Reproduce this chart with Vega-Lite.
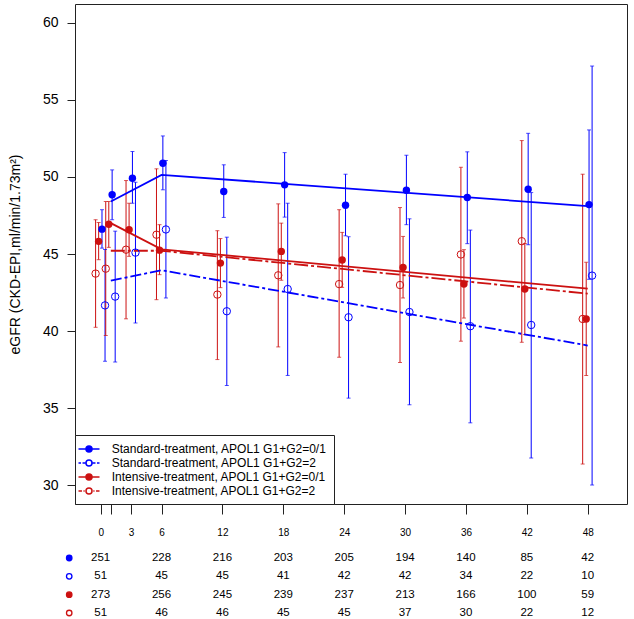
{
  "$schema": "https://vega.github.io/schema/vega-lite/v6.json",
  "padding": {"left": 7, "top": 3, "right": 0, "bottom": 0},
  "autosize": {"type": "pad"},
  "background": "white",
  "spacing": 54,
  "bounds": "flush",
  "config": {
    "font": "Liberation Sans",
    "view": {"stroke": null},
    "legend": {
      "orient": "bottom-left",
      "offset": 0,
      "padding": 7,
      "strokeColor": "#222",
      "fillColor": "white",
      "symbolSize": 144,
      "symbolStrokeWidth": 1.5,
      "symbolOpacity": 1,
      "labelFontSize": 12,
      "labelOffset": 15.7,
      "rowPadding": 1,
      "labelColor": "black",
      "labelLimit": 400
    }
  },
  "datasets": {
    "pts": [
      {"g": "Standard-treatment, APOL1 G1+G2=0/1", "m": 0, "t": 0.13, "est": 46.61, "lo": 45.38, "hi": 47.87},
      {"g": "Standard-treatment, APOL1 G1+G2=0/1", "m": 1, "t": 1.13, "est": 48.84, "lo": 47.22, "hi": 50.45},
      {"g": "Standard-treatment, APOL1 G1+G2=0/1", "m": 3, "t": 3.13, "est": 49.91, "lo": 48.29, "hi": 51.64},
      {"g": "Standard-treatment, APOL1 G1+G2=0/1", "m": 6, "t": 6.13, "est": 50.88, "lo": 49.16, "hi": 52.65},
      {"g": "Standard-treatment, APOL1 G1+G2=0/1", "m": 12, "t": 12.13, "est": 49.05, "lo": 47.37, "hi": 50.78},
      {"g": "Standard-treatment, APOL1 G1+G2=0/1", "m": 18, "t": 18.13, "est": 49.48, "lo": 47.39, "hi": 51.57},
      {"g": "Standard-treatment, APOL1 G1+G2=0/1", "m": 24, "t": 24.13, "est": 48.16, "lo": 46.18, "hi": 50.17},
      {"g": "Standard-treatment, APOL1 G1+G2=0/1", "m": 30, "t": 30.13, "est": 49.13, "lo": 46.9, "hi": 51.4},
      {"g": "Standard-treatment, APOL1 G1+G2=0/1", "m": 36, "t": 36.13, "est": 48.66, "lo": 45.67, "hi": 51.62},
      {"g": "Standard-treatment, APOL1 G1+G2=0/1", "m": 42, "t": 42.13, "est": 49.2, "lo": 45.6, "hi": 52.82},
      {"g": "Standard-treatment, APOL1 G1+G2=0/1", "m": 48, "t": 48.13, "est": 48.2, "lo": 43.36, "hi": 53.04},
      {"g": "Standard-treatment, APOL1 G1+G2=2", "m": 0, "t": 0.43, "est": 41.67, "lo": 38.05, "hi": 45.29},
      {"g": "Standard-treatment, APOL1 G1+G2=2", "m": 1, "t": 1.43, "est": 42.24, "lo": 38.0, "hi": 46.48},
      {"g": "Standard-treatment, APOL1 G1+G2=2", "m": 3, "t": 3.43, "est": 45.09, "lo": 40.53, "hi": 49.65},
      {"g": "Standard-treatment, APOL1 G1+G2=2", "m": 6, "t": 6.43, "est": 46.59, "lo": 42.15, "hi": 51.06},
      {"g": "Standard-treatment, APOL1 G1+G2=2", "m": 12, "t": 12.43, "est": 41.29, "lo": 36.48, "hi": 46.09},
      {"g": "Standard-treatment, APOL1 G1+G2=2", "m": 18, "t": 18.43, "est": 42.73, "lo": 37.13, "hi": 48.29},
      {"g": "Standard-treatment, APOL1 G1+G2=2", "m": 24, "t": 24.43, "est": 40.9, "lo": 35.66, "hi": 46.12},
      {"g": "Standard-treatment, APOL1 G1+G2=2", "m": 30, "t": 30.43, "est": 41.24, "lo": 35.23, "hi": 47.28},
      {"g": "Standard-treatment, APOL1 G1+G2=2", "m": 36, "t": 36.43, "est": 40.32, "lo": 34.06, "hi": 46.55},
      {"g": "Standard-treatment, APOL1 G1+G2=2", "m": 42, "t": 42.43, "est": 40.4, "lo": 31.78, "hi": 48.98},
      {"g": "Standard-treatment, APOL1 G1+G2=2", "m": 48, "t": 48.43, "est": 43.6, "lo": 30.03, "hi": 57.18},
      {"g": "Intensive-treatment, APOL1 G1+G2=0/1", "m": 0, "t": -0.2, "est": 45.82, "lo": 44.63, "hi": 47.04},
      {"g": "Intensive-treatment, APOL1 G1+G2=0/1", "m": 1, "t": 0.8, "est": 46.93, "lo": 45.43, "hi": 48.4},
      {"g": "Intensive-treatment, APOL1 G1+G2=0/1", "m": 3, "t": 2.8, "est": 46.57, "lo": 44.85, "hi": 48.29},
      {"g": "Intensive-treatment, APOL1 G1+G2=0/1", "m": 6, "t": 5.8, "est": 45.25, "lo": 43.66, "hi": 46.9},
      {"g": "Intensive-treatment, APOL1 G1+G2=0/1", "m": 12, "t": 11.8, "est": 44.41, "lo": 42.82, "hi": 46.0},
      {"g": "Intensive-treatment, APOL1 G1+G2=0/1", "m": 18, "t": 17.8, "est": 45.17, "lo": 43.3, "hi": 47.0},
      {"g": "Intensive-treatment, APOL1 G1+G2=0/1", "m": 24, "t": 23.8, "est": 44.61, "lo": 42.84, "hi": 46.4},
      {"g": "Intensive-treatment, APOL1 G1+G2=0/1", "m": 30, "t": 29.8, "est": 44.13, "lo": 42.15, "hi": 46.14},
      {"g": "Intensive-treatment, APOL1 G1+G2=0/1", "m": 36, "t": 35.8, "est": 43.05, "lo": 40.85, "hi": 45.28},
      {"g": "Intensive-treatment, APOL1 G1+G2=0/1", "m": 42, "t": 41.8, "est": 42.73, "lo": 39.78, "hi": 45.68},
      {"g": "Intensive-treatment, APOL1 G1+G2=0/1", "m": 48, "t": 47.85, "est": 40.79, "lo": 37.13, "hi": 44.46},
      {"g": "Intensive-treatment, APOL1 G1+G2=2", "m": 0, "t": -0.5, "est": 43.73, "lo": 40.25, "hi": 47.22},
      {"g": "Intensive-treatment, APOL1 G1+G2=2", "m": 1, "t": 0.5, "est": 44.05, "lo": 39.72, "hi": 48.4},
      {"g": "Intensive-treatment, APOL1 G1+G2=2", "m": 3, "t": 2.5, "est": 45.28, "lo": 40.8, "hi": 49.76},
      {"g": "Intensive-treatment, APOL1 G1+G2=2", "m": 6, "t": 5.5, "est": 46.25, "lo": 42.04, "hi": 50.52},
      {"g": "Intensive-treatment, APOL1 G1+G2=2", "m": 12, "t": 11.5, "est": 42.37, "lo": 38.16, "hi": 46.51},
      {"g": "Intensive-treatment, APOL1 G1+G2=2", "m": 18, "t": 17.5, "est": 43.62, "lo": 38.98, "hi": 48.25},
      {"g": "Intensive-treatment, APOL1 G1+G2=2", "m": 24, "t": 23.5, "est": 43.05, "lo": 38.31, "hi": 47.87},
      {"g": "Intensive-treatment, APOL1 G1+G2=2", "m": 30, "t": 29.5, "est": 42.99, "lo": 37.97, "hi": 48.01},
      {"g": "Intensive-treatment, APOL1 G1+G2=2", "m": 36, "t": 35.5, "est": 44.97, "lo": 39.35, "hi": 50.62},
      {"g": "Intensive-treatment, APOL1 G1+G2=2", "m": 42, "t": 41.5, "est": 45.83, "lo": 39.28, "hi": 52.35},
      {"g": "Intensive-treatment, APOL1 G1+G2=2", "m": 48, "t": 47.5, "est": 40.79, "lo": 31.39, "hi": 50.17}
    ],
    "fit": [
      {"g": "Standard-treatment, APOL1 G1+G2=0/1", "m": 1, "fit": 48.4},
      {"g": "Standard-treatment, APOL1 G1+G2=0/1", "m": 6, "fit": 50.13},
      {"g": "Standard-treatment, APOL1 G1+G2=0/1", "m": 48, "fit": 48.1},
      {"g": "Standard-treatment, APOL1 G1+G2=2", "m": 1, "fit": 43.27},
      {"g": "Standard-treatment, APOL1 G1+G2=2", "m": 6, "fit": 43.95},
      {"g": "Standard-treatment, APOL1 G1+G2=2", "m": 48, "fit": 39.07},
      {"g": "Intensive-treatment, APOL1 G1+G2=0/1", "m": 1, "fit": 47.0},
      {"g": "Intensive-treatment, APOL1 G1+G2=0/1", "m": 6, "fit": 45.3},
      {"g": "Intensive-treatment, APOL1 G1+G2=0/1", "m": 48, "fit": 42.75},
      {"g": "Intensive-treatment, APOL1 G1+G2=2", "m": 1, "fit": 45.21},
      {"g": "Intensive-treatment, APOL1 G1+G2=2", "m": 6, "fit": 45.21},
      {"g": "Intensive-treatment, APOL1 G1+G2=2", "m": 48, "fit": 42.43}
    ],
    "counts": [
      {"g": "Standard-treatment, APOL1 G1+G2=0/1", "m": 0, "n": 251},
      {"g": "Standard-treatment, APOL1 G1+G2=0/1", "m": 6, "n": 228},
      {"g": "Standard-treatment, APOL1 G1+G2=0/1", "m": 12, "n": 216},
      {"g": "Standard-treatment, APOL1 G1+G2=0/1", "m": 18, "n": 203},
      {"g": "Standard-treatment, APOL1 G1+G2=0/1", "m": 24, "n": 205},
      {"g": "Standard-treatment, APOL1 G1+G2=0/1", "m": 30, "n": 194},
      {"g": "Standard-treatment, APOL1 G1+G2=0/1", "m": 36, "n": 140},
      {"g": "Standard-treatment, APOL1 G1+G2=0/1", "m": 42, "n": 85},
      {"g": "Standard-treatment, APOL1 G1+G2=0/1", "m": 48, "n": 42},
      {"g": "Standard-treatment, APOL1 G1+G2=2", "m": 0, "n": 51},
      {"g": "Standard-treatment, APOL1 G1+G2=2", "m": 6, "n": 45},
      {"g": "Standard-treatment, APOL1 G1+G2=2", "m": 12, "n": 45},
      {"g": "Standard-treatment, APOL1 G1+G2=2", "m": 18, "n": 41},
      {"g": "Standard-treatment, APOL1 G1+G2=2", "m": 24, "n": 42},
      {"g": "Standard-treatment, APOL1 G1+G2=2", "m": 30, "n": 42},
      {"g": "Standard-treatment, APOL1 G1+G2=2", "m": 36, "n": 34},
      {"g": "Standard-treatment, APOL1 G1+G2=2", "m": 42, "n": 22},
      {"g": "Standard-treatment, APOL1 G1+G2=2", "m": 48, "n": 10},
      {"g": "Intensive-treatment, APOL1 G1+G2=0/1", "m": 0, "n": 273},
      {"g": "Intensive-treatment, APOL1 G1+G2=0/1", "m": 6, "n": 256},
      {"g": "Intensive-treatment, APOL1 G1+G2=0/1", "m": 12, "n": 245},
      {"g": "Intensive-treatment, APOL1 G1+G2=0/1", "m": 18, "n": 239},
      {"g": "Intensive-treatment, APOL1 G1+G2=0/1", "m": 24, "n": 237},
      {"g": "Intensive-treatment, APOL1 G1+G2=0/1", "m": 30, "n": 213},
      {"g": "Intensive-treatment, APOL1 G1+G2=0/1", "m": 36, "n": 166},
      {"g": "Intensive-treatment, APOL1 G1+G2=0/1", "m": 42, "n": 100},
      {"g": "Intensive-treatment, APOL1 G1+G2=0/1", "m": 48, "n": 59},
      {"g": "Intensive-treatment, APOL1 G1+G2=2", "m": 0, "n": 51},
      {"g": "Intensive-treatment, APOL1 G1+G2=2", "m": 6, "n": 46},
      {"g": "Intensive-treatment, APOL1 G1+G2=2", "m": 12, "n": 46},
      {"g": "Intensive-treatment, APOL1 G1+G2=2", "m": 18, "n": 45},
      {"g": "Intensive-treatment, APOL1 G1+G2=2", "m": 24, "n": 45},
      {"g": "Intensive-treatment, APOL1 G1+G2=2", "m": 30, "n": 37},
      {"g": "Intensive-treatment, APOL1 G1+G2=2", "m": 36, "n": 30},
      {"g": "Intensive-treatment, APOL1 G1+G2=2", "m": 42, "n": 22},
      {"g": "Intensive-treatment, APOL1 G1+G2=2", "m": 48, "n": 12}
    ]
  },
  "resolve": {"scale": {"x": "independent", "y": "independent", "fill": "independent", "stroke": "independent", "shape": "independent", "color": "independent"}},
  "vconcat": [
    {
      "width": 552,
      "height": 500,
      "view": {"stroke": "#222", "strokeWidth": 1},
      "layer": [
        {
          "data": {"name": "pts"},
          "mark": {"type": "rule", "strokeWidth": 1},
          "encoding": {
            "x": {"field": "t", "type": "quantitative", "scale": {"domain": [-2.53, 51.87], "nice": false, "zero": false},
              "axis": {"values": [0, 1, 3, 6, 12, 18, 24, 30, 36, 42, 48], "title": null, "tickSize": 10, "labelPadding": 13, "labelFontSize": 10, "labelExpr": "datum.value == 1 ? '' : datum.label", "domain": false, "grid": false, "labelOverlap": false, "labelFlush": false, "tickColor": "#222", "labelColor": "black"}},
            "y": {"field": "lo", "type": "quantitative", "scale": {"domain": [28.8, 61.2], "nice": false, "zero": false},
              "axis": {"values": [30, 35, 40, 45, 50, 55, 60], "title": "eGFR (CKD-EPI,ml/min/1.73m²)", "tickSize": 8, "labelPadding": 9, "labelFontSize": 14, "titleFontSize": 14, "titleFontWeight": "normal", "titlePadding": 20, "domain": false, "grid": false, "tickColor": "#222", "labelColor": "black", "titleColor": "black"}},
            "y2": {"field": "hi"},
            "color": {"field": "g", "type": "nominal", "legend": null,
              "scale": {"domain": ["Intensive-treatment, APOL1 G1+G2=0/1", "Intensive-treatment, APOL1 G1+G2=2", "Standard-treatment, APOL1 G1+G2=0/1", "Standard-treatment, APOL1 G1+G2=2"], "range": ["#cc1111", "#cc1111", "#0000ff", "#0000ff"]}}
          }
        },
        {
          "data": {"name": "pts"},
          "mark": {"type": "tick", "orient": "horizontal", "size": 4, "thickness": 1},
          "encoding": {
            "x": {"field": "t", "type": "quantitative"},
            "y": {"field": "lo", "type": "quantitative"},
            "color": {"field": "g", "type": "nominal", "legend": null}
          }
        },
        {
          "data": {"name": "pts"},
          "mark": {"type": "tick", "orient": "horizontal", "size": 4, "thickness": 1},
          "encoding": {
            "x": {"field": "t", "type": "quantitative"},
            "y": {"field": "hi", "type": "quantitative"},
            "color": {"field": "g", "type": "nominal", "legend": null}
          }
        },
        {
          "data": {"name": "fit"},
          "transform": [{"filter": "indexof(datum.g, '=0/1') >= 0"}],
          "mark": {"type": "line", "strokeWidth": 1.8},
          "encoding": {
            "x": {"field": "m", "type": "quantitative"},
            "y": {"field": "fit", "type": "quantitative"},
            "color": {"field": "g", "type": "nominal", "legend": null}
          }
        },
        {
          "data": {"name": "fit"},
          "transform": [{"filter": "datum.g == 'Standard-treatment, APOL1 G1+G2=2'"}],
          "mark": {"type": "line", "strokeWidth": 1.8, "strokeDash": [11, 3, 3, 3]},
          "encoding": {
            "x": {"field": "m", "type": "quantitative"},
            "y": {"field": "fit", "type": "quantitative"},
            "color": {"field": "g", "type": "nominal", "legend": null}
          }
        },
        {
          "data": {"name": "fit"},
          "transform": [{"filter": "datum.g == 'Intensive-treatment, APOL1 G1+G2=2'"}],
          "mark": {"type": "line", "strokeWidth": 1.8, "strokeDash": [14, 3, 3, 3]},
          "encoding": {
            "x": {"field": "m", "type": "quantitative"},
            "y": {"field": "fit", "type": "quantitative"},
            "color": {"field": "g", "type": "nominal", "legend": null}
          }
        },
        {
          "data": {"name": "pts"},
          "transform": [{"filter": "indexof(datum.g, '=0/1') >= 0"}],
          "mark": {"type": "point", "shape": "circle", "size": 55, "strokeWidth": 1, "filled": true, "opacity": 1},
          "encoding": {
            "x": {"field": "t", "type": "quantitative"},
            "y": {"field": "est", "type": "quantitative"},
            "color": {"field": "g", "type": "nominal", "legend": null}
          }
        },
        {
          "data": {"name": "pts"},
          "transform": [{"filter": "indexof(datum.g, '=2') >= 0"}],
          "mark": {"type": "point", "shape": "circle", "size": 55, "strokeWidth": 1, "filled": false, "opacity": 1},
          "encoding": {
            "x": {"field": "t", "type": "quantitative"},
            "y": {"field": "est", "type": "quantitative"},
            "color": {"field": "g", "type": "nominal", "legend": null}
          }
        },
        {
          "data": {"name": "pts"},
          "transform": [{"filter": "false"}],
          "mark": {"type": "point", "strokeWidth": 1.5, "opacity": 1},
          "encoding": {
            "x": {"field": "t", "type": "quantitative"},
            "y": {"field": "est", "type": "quantitative"},
            "stroke": {"field": "g", "type": "nominal", "legend": {"title": null},
              "scale": {"domain": ["Standard-treatment, APOL1 G1+G2=0/1", "Standard-treatment, APOL1 G1+G2=2", "Intensive-treatment, APOL1 G1+G2=0/1", "Intensive-treatment, APOL1 G1+G2=2"], "range": ["#0000ff", "#0000ff", "#cc1111", "#cc1111"]}},
            "fill": {"field": "g", "type": "nominal", "legend": {"title": null},
              "scale": {"domain": ["Standard-treatment, APOL1 G1+G2=0/1", "Standard-treatment, APOL1 G1+G2=2", "Intensive-treatment, APOL1 G1+G2=0/1", "Intensive-treatment, APOL1 G1+G2=2"], "range": ["#0000ff", "transparent", "#cc1111", "transparent"]}},
            "shape": {"field": "g", "type": "nominal", "legend": {"title": null},
              "scale": {"domain": ["Standard-treatment, APOL1 G1+G2=0/1", "Standard-treatment, APOL1 G1+G2=2", "Intensive-treatment, APOL1 G1+G2=0/1", "Intensive-treatment, APOL1 G1+G2=2"],
                "range": [
                  "M-1.75,0H1.75M0.5,0A0.5,0.5 0 1,1 -0.5,0A0.5,0.5 0 1,1 0.5,0Z",
                  "M-1.75,0H-1.33M-1.08,0H-0.62M0.62,0H1.08M1.33,0H1.75M0.5,0A0.5,0.5 0 1,1 -0.5,0A0.5,0.5 0 1,1 0.5,0Z",
                  "M-1.75,0H1.75M0.5,0A0.5,0.5 0 1,1 -0.5,0A0.5,0.5 0 1,1 0.5,0Z",
                  "M-1.75,0H-1.17M-0.92,0H-0.72M0.72,0H0.92M1.17,0H1.75M0.5,0A0.5,0.5 0 1,1 -0.5,0A0.5,0.5 0 1,1 0.5,0Z"
                ]}}
          }
        }
      ]
    },
    {
      "width": 552,
      "height": 55,
      "layer": [
        {
          "data": {"name": "counts"},
          "mark": {"type": "text", "fontSize": 11.5, "baseline": "middle", "align": "center", "color": "black"},
          "encoding": {
            "x": {"field": "m", "type": "quantitative", "scale": {"domain": [-2.53, 51.87], "nice": false, "zero": false}, "axis": null},
            "y": {"field": "g", "type": "nominal", "axis": null,
              "scale": {"type": "point", "padding": 0, "domain": ["Standard-treatment, APOL1 G1+G2=0/1", "Standard-treatment, APOL1 G1+G2=2", "Intensive-treatment, APOL1 G1+G2=0/1", "Intensive-treatment, APOL1 G1+G2=2"]}},
            "text": {"field": "n", "type": "quantitative"}
          }
        },
        {
          "data": {"name": "fit"},
          "transform": [{"filter": "datum.m == 1"}],
          "mark": {"type": "point", "shape": "circle", "size": 30, "strokeWidth": 1.3, "opacity": 1},
          "encoding": {
            "x": {"datum": -3.1, "type": "quantitative"},
            "y": {"field": "g", "type": "nominal", "axis": null},
            "stroke": {"field": "g", "type": "nominal", "legend": null,
              "scale": {"domain": ["Standard-treatment, APOL1 G1+G2=0/1", "Standard-treatment, APOL1 G1+G2=2", "Intensive-treatment, APOL1 G1+G2=0/1", "Intensive-treatment, APOL1 G1+G2=2"], "range": ["#0000ff", "#0000ff", "#cc1111", "#cc1111"]}},
            "fill": {"field": "g", "type": "nominal", "legend": null,
              "scale": {"domain": ["Standard-treatment, APOL1 G1+G2=0/1", "Standard-treatment, APOL1 G1+G2=2", "Intensive-treatment, APOL1 G1+G2=0/1", "Intensive-treatment, APOL1 G1+G2=2"], "range": ["#0000ff", "transparent", "#cc1111", "transparent"]}}
          }
        }
      ]
    }
  ]
}
